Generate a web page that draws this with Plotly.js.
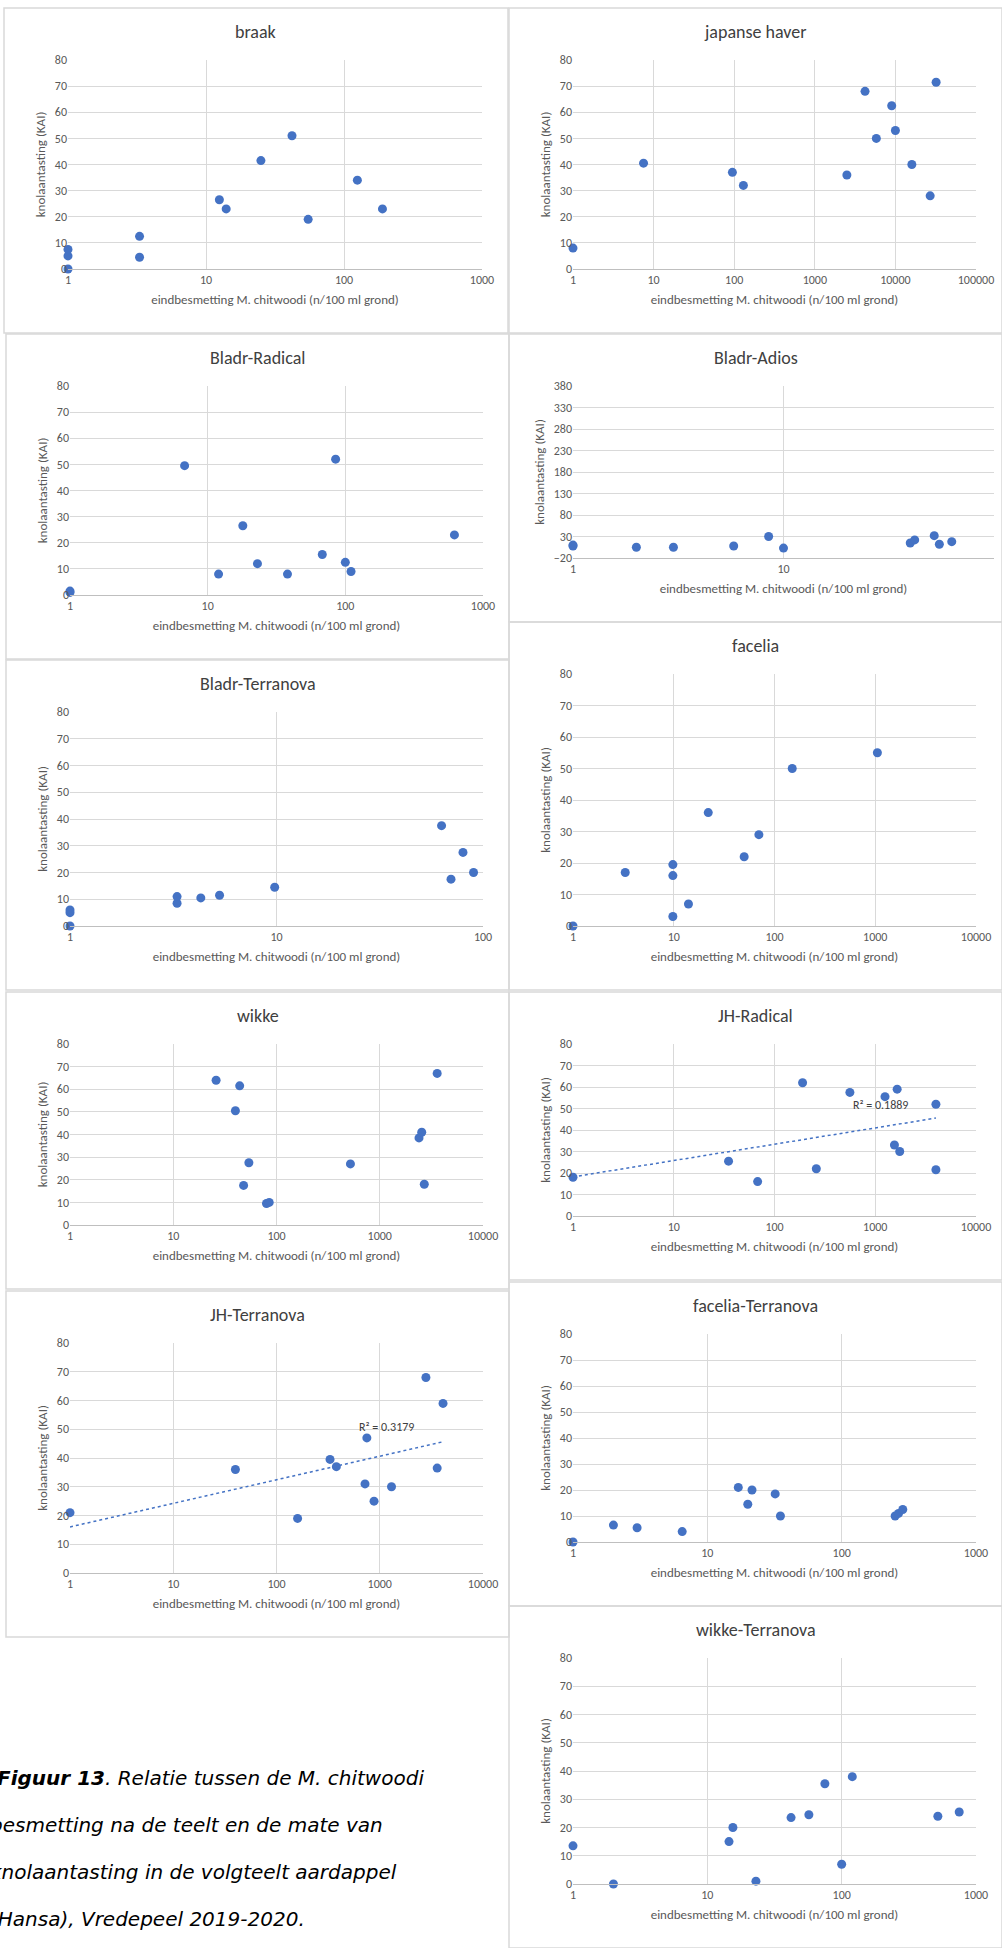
<!DOCTYPE html>
<html>
<head>
<meta charset="utf-8">
<script src="https://cdn.plot.ly/plotly-3.0.1.min.js"></script>
<style>body{margin:0;background:#fff}#chart{width:1002px;height:1948px}</style>
</head>
<body>
<div id="chart"></div>
<script>
// values, per panel
const braakX = [1, 1, 1, 3.3, 3.3, 12.5, 14, 25, 42, 55, 125, 190];
const braakY = [0, 5, 7.5, 4.5, 12.5, 26.5, 23, 41.5, 51, 19, 34, 23];
const haverX = [1, 7.5, 95, 130, 2500, 4200, 5800, 9000, 10000, 16000, 27000, 32000];
const haverY = [8, 40.5, 37, 32, 36, 68, 50, 62.5, 53, 40, 28, 71.5];
const bRadX = [1, 1, 6.8, 12, 18, 23, 38, 68, 85, 100, 110, 620];
const bRadY = [1, 1.5, 49.5, 8, 26.5, 12, 8, 15.5, 52, 12.5, 9, 23];
const bAdiosX = [1, 1, 2, 3, 5.8, 8.5, 10, 40, 42, 52, 55, 63];
const bAdiosY = [10, 8, 5, 5, 8, 30, 3, 15, 22, 32, 12, 18];
const bTerX = [1, 1, 1, 3.3, 3.3, 4.3, 5.3, 9.8, 63, 70, 80, 90];
const bTerY = [0, 5, 6, 8.5, 11, 10.5, 11.5, 14.5, 37.5, 17.5, 27.5, 20];
const faceliaX = [1, 3.3, 9.8, 9.8, 9.8, 14, 22, 50, 70, 150, 1050];
const faceliaY = [0, 17, 3, 16, 19.5, 7, 36, 22, 29, 50, 55];
const wikkeX = [26, 40, 44, 48, 54, 80, 85, 520, 2400, 2550, 2700, 3600];
const wikkeY = [64, 50.5, 61.5, 17.5, 27.5, 9.5, 10, 27, 38.5, 41, 18, 67];
const jhRadX = [1, 35, 68, 190, 260, 560, 1250, 1550, 1650, 1750, 4000, 4000];
const jhRadY = [18, 25.5, 16, 62, 22, 57.5, 55.5, 33, 59, 30, 52, 21.5];
const jhTerX = [1, 40, 160, 330, 380, 720, 750, 880, 1300, 2800, 3600, 4100];
const jhTerY = [21, 36, 19, 39.5, 37, 31, 47, 25, 30, 68, 36.5, 59];
const fTerX = [1, 2, 3, 6.5, 17, 20, 21.5, 32, 35, 250, 265, 285];
const fTerY = [0, 6.5, 5.5, 4, 21, 14.5, 20, 18.5, 10, 10, 11, 12.5];
const wTerX = [1, 2, 14.5, 15.5, 23, 42, 57, 75, 100, 120, 520, 750];
const wTerY = [13.5, 0, 15, 20, 1, 23.5, 24.5, 35.5, 7, 38, 24, 25.5];

const W = 1002, H = 1948;
const BLUE = '#4472c4', GRID = '#d9d9d9', TXT = '#595959';

// panel: box in pixels, axis ranges (log10 decades)
const panels = [
  {t: 'braak', x: braakX, y: braakY, box: [4, 8, 508, 333], xr: [0, 3], yr: [0, 80], dy: 10},
  {t: 'japanse haver', x: haverX, y: haverY, box: [509, 8, 1002, 333], xr: [0, 5], yr: [0, 80], dy: 10},
  {t: 'Bladr-Radical', x: bRadX, y: bRadY, box: [6, 334, 509, 659], xr: [0, 3], yr: [0, 80], dy: 10},
  {t: 'Bladr-Adios', x: bAdiosX, y: bAdiosY, box: [509, 334, 1002, 622], xr: [0, 2], yr: [-20, 380], dy: 50, wide: true},
  {t: 'Bladr-Terranova', x: bTerX, y: bTerY, box: [6, 660, 509, 990], xr: [0, 2], yr: [0, 80], dy: 10},
  {t: 'facelia', x: faceliaX, y: faceliaY, box: [509, 622, 1002, 990], xr: [0, 4], yr: [0, 80], dy: 10},
  {t: 'wikke', x: wikkeX, y: wikkeY, box: [6, 992, 509, 1289], xr: [0, 4], yr: [0, 80], dy: 10},
  {t: 'JH-Radical', x: jhRadX, y: jhRadY, box: [509, 992, 1002, 1280], xr: [0, 4], yr: [0, 80], dy: 10, r2: 'R² = 0.1889'},
  {t: 'JH-Terranova', x: jhTerX, y: jhTerY, box: [6, 1291, 509, 1637], xr: [0, 4], yr: [0, 80], dy: 10, r2: 'R² = 0.3179'},
  {t: 'facelia-Terranova', x: fTerX, y: fTerY, box: [509, 1282, 1002, 1606], xr: [0, 3], yr: [0, 80], dy: 10},
  {t: 'wikke-Terranova', x: wTerX, y: wTerY, box: [509, 1606, 1002, 1948], xr: [0, 3], yr: [0, 80], dy: 10}
];

const px = v => v / W;
const py = v => 1 - v / H;

// least squares fit y = a + b*log10(x)
function logFit(xs, ys) {
  const lx = xs.map(Math.log10);
  const n = lx.length;
  const mx = lx.reduce((s, v) => s + v, 0) / n;
  const my = ys.reduce((s, v) => s + v, 0) / n;
  let sxy = 0, sxx = 0;
  for (let i = 0; i < n; i++) { sxy += (lx[i] - mx) * (ys[i] - my); sxx += (lx[i] - mx) ** 2; }
  const b = sxy / sxx;
  return {a: my - b * mx, b: b};
}

const data = [];
const layout = {
  width: W, height: H, margin: {l: 0, r: 0, t: 0, b: 0},
  paper_bgcolor: '#fff', plot_bgcolor: '#fff', showlegend: false,
  font: {family: 'Carlito, Calibri, "Open Sans", sans-serif', color: TXT, size: 12},
  annotations: [], shapes: []
};

panels.forEach((p, i) => {
  const n = i === 0 ? '' : String(i + 1);
  const [x0, y0, x1, y1] = p.box;
  const top = y0 + 52, bottom = y1 - 64, left = x0 + 64, right = p.wide ? x1 - 8 : x1 - 26;
  layout['xaxis' + n] = {
    type: 'log', range: p.xr, domain: [px(left), px(right)], anchor: 'y' + n,
    showgrid: true, gridcolor: GRID, linecolor: '#bfbfbf', showline: true, zeroline: false,
    tickvals: Array.from({length: p.xr[1] + 1}, (_, k) => Math.pow(10, k)),
    ticktext: Array.from({length: p.xr[1] + 1}, (_, k) => String(Math.pow(10, k))),
    ticks: '', tickfont: {size: 12, color: TXT},
    title: {text: 'eindbesmetting M. chitwoodi (n/100 ml grond)', font: {size: 13, color: TXT}, standoff: 8}
  };
  layout['yaxis' + n] = {
    range: p.yr, domain: [py(bottom), py(top)], anchor: 'x' + n,
    showgrid: true, gridcolor: GRID, zeroline: false, showline: false,
    dtick: p.dy, tick0: p.yr[0], ticks: '', tickfont: {size: 12, color: TXT},
    title: {text: 'knolaantasting (KAI)', font: {size: 13, color: TXT}, standoff: 6}
  };
  data.push({
    type: 'scatter', mode: 'markers', x: p.x, y: p.y, xaxis: 'x' + n, yaxis: 'y' + n,
    marker: {color: BLUE, size: 9}, cliponaxis: false
  });
  if (p.r2) {
    const f = logFit(p.x, p.y);
    const xs = [1, Math.max(...p.x)];
    data.push({
      type: 'scatter', mode: 'lines', x: xs, y: xs.map(v => f.a + f.b * Math.log10(v)),
      xaxis: 'x' + n, yaxis: 'y' + n, line: {color: BLUE, width: 1.5, dash: 'dot'}
    });
    layout.annotations.push({
      xref: 'x' + n, yref: 'y' + n, x: Math.log10(xs[1] * 0.55), y: f.a + f.b * Math.log10(xs[1]) + 2,
      text: p.r2, showarrow: false, xanchor: 'right', yanchor: 'bottom', font: {size: 12, color: '#404040'}
    });
  }
  layout.annotations.push({
    xref: 'paper', yref: 'paper', x: px((x0 + x1) / 2), y: py(y0 + 24), text: p.t,
    showarrow: false, xanchor: 'center', yanchor: 'middle', font: {size: 18, color: '#404040'}
  });
  layout.shapes.push({
    type: 'rect', xref: 'paper', yref: 'paper', x0: px(x0), x1: px(x1), y0: py(y1), y1: py(y0),
    line: {color: '#d9d9d9', width: 1.5}
  });
});

const caption = [
  '<b>Figuur 13</b>. Relatie tussen de M. chitwoodi',
  'besmetting na de teelt en de mate van',
  'knolaantasting in de volgteelt aardappel',
  '(Hansa), Vredepeel 2019-2020.'
];
caption.forEach((line, k) => {
  layout.annotations.push({
    xref: 'paper', yref: 'paper', x: k === 0 ? -0.005 : -0.012, y: py(1778 + k * 47), text: '<i>' + line + '</i>',
    showarrow: false, xanchor: 'left', yanchor: 'middle',
    font: {family: '"DejaVu Sans", Verdana, sans-serif', size: 20, color: '#000'}
  });
});

Plotly.newPlot('chart', data, layout, {staticPlot: true});
</script>
</body>
</html>
